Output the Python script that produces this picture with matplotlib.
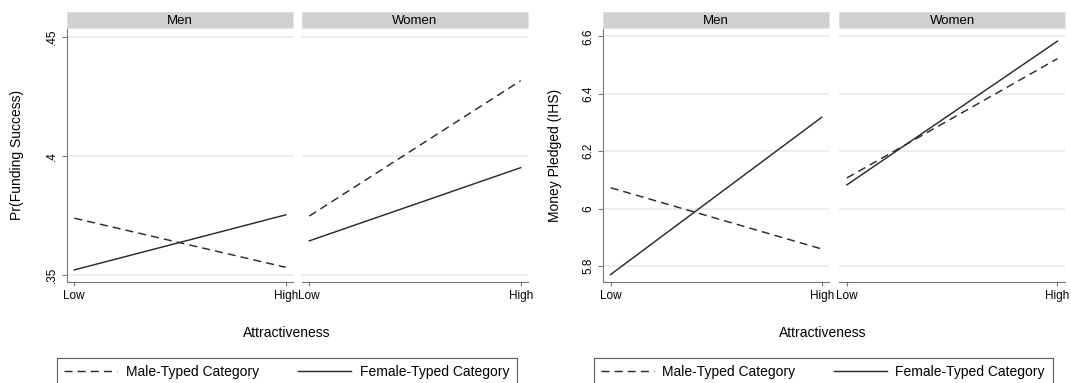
import numpy as np
import matplotlib
matplotlib.use("Agg")
import matplotlib.pyplot as plt
from matplotlib.lines import Line2D

plt.rcParams['font.family'] = ['Liberation Sans', 'DejaVu Sans']

# data
levels = ['Low', 'High']
panels = ['Men', 'Women']

fund_men_male = [0.3738, 0.3532]
fund_men_female = [0.3521, 0.3752]
fund_women_male = [0.3747, 0.4315]
fund_women_female = [0.3643, 0.3950]
fund_ticks = [0.35, 0.40, 0.45]
fund_ticklabels = ['.35', '.4', '.45']

money_men_male = [6.073, 5.860]
money_men_female = [5.771, 6.318]
money_women_male = [6.107, 6.522]
money_women_female = [6.083, 6.583]
money_ticks = [5.8, 6.0, 6.2, 6.4, 6.6]
money_ticklabels = ['5.8', '6', '6.2', '6.4', '6.6']

W, H = 1071, 383
fig = plt.figure(figsize=(W / 100, H / 100), dpi=100)

LINE = '#2b2b2b'
AXC = '#777777'
GRID = '#ebebeb'
STRIP = '#d0d0d0'
LW = 1.05
dash = (0, (5.5, 3.5))

x = np.arange(len(levels))


def box(x0, x1, y0, y1):
    # pixel box -> figure fraction rect
    return [x0 / W, 1 - y1 / H, (x1 - x0) / W, (y1 - y0) / H]


def panel(x0, x1, title, male, female, ylim, ticks, ticklabels, first):
    ax = fig.add_axes(box(x0, x1, 28.5, 282.3))
    ax.plot(x, male, color=LINE, lw=LW, ls=dash)
    ax.plot(x, female, color=LINE, lw=LW)
    ax.set_xlim(-0.036, 1.036)
    ax.set_ylim(*ylim)
    ax.set_xticks(x)
    ax.set_xticklabels(levels, fontsize=8.5)
    ax.set_yticks(ticks)
    ax.grid(axis='y', color=GRID, lw=1.3)
    ax.set_axisbelow(True)
    for s in ['top', 'right']:
        ax.spines[s].set_visible(False)
    ax.spines['bottom'].set_color(AXC)
    ax.spines['left'].set_color(AXC)
    ax.tick_params(axis='x', colors=AXC, length=2.8, width=0.8, pad=3, labelcolor='black')
    if first:
        ax.set_yticklabels(ticklabels, fontsize=8.5, rotation=90, va='center')
        ax.tick_params(axis='y', colors=AXC, length=3.6, width=0.8, pad=2.5, labelcolor='black')
    else:
        ax.spines['left'].set_visible(False)
        ax.tick_params(axis='y', length=0, labelleft=False)
    st = fig.add_axes(box(x0, x1, 11.7, 28.3))
    st.set_facecolor(STRIP)
    st.set_xticks([])
    st.set_yticks([])
    for s in st.spines.values():
        s.set_color('#dde3e8')
        s.set_linewidth(0.6)
    st.text(0.5, 0.45, title, ha='center', va='center', fontsize=9.5, transform=st.transAxes)
    return ax


# left chart: funding success
fund_ylim = (0.3469, 0.4534)
panel(66.7, 293.3, panels[0], fund_men_male, fund_men_female, fund_ylim,
      fund_ticks, fund_ticklabels, True)
panel(301.7, 528.3, panels[1], fund_women_male, fund_women_female, fund_ylim,
      fund_ticks, fund_ticklabels, False)

# right chart: money pledged
money_ylim = (5.744, 6.627)
panel(603, 829.3, panels[0], money_men_male, money_men_female, money_ylim,
      money_ticks, money_ticklabels, True)
panel(839.3, 1065, panels[1], money_women_male, money_women_female, money_ylim,
      money_ticks, money_ticklabels, False)

fig.text(17 / W, 1 - 155.4 / H, 'Pr(Funding Success)', rotation=90,
         ha='center', va='center', fontsize=10)
fig.text(555 / W, 1 - 155.4 / H, 'Money Pledged (IHS)', rotation=90,
         ha='center', va='center', fontsize=10)
fig.text(287 / W, 1 - 337 / H, 'Attractiveness', ha='center', va='baseline', fontsize=10)
fig.text(822.5 / W, 1 - 337 / H, 'Attractiveness', ha='center', va='baseline', fontsize=10)

handles = [Line2D([], [], color=LINE, lw=LW, ls=dash),
           Line2D([], [], color=LINE, lw=LW)]
names = ['Male-Typed Category', 'Female-Typed Category']
for x0, x1 in [(56.8, 516.7), (593.5, 1052.5)]:
    leg = fig.legend(handles, names, loc='upper left', ncol=2, mode='expand',
                     bbox_to_anchor=(x0 / W, 1 - 357.7 / H, (x1 - x0) / W, 0),
                     borderaxespad=0, fontsize=10, frameon=True, fancybox=False,
                     handlelength=3.8, handletextpad=0.6, borderpad=0.55)
    leg.get_frame().set_edgecolor('#333333')
    leg.get_frame().set_linewidth(0.8)

fig.savefig('out.png', dpi=100)
